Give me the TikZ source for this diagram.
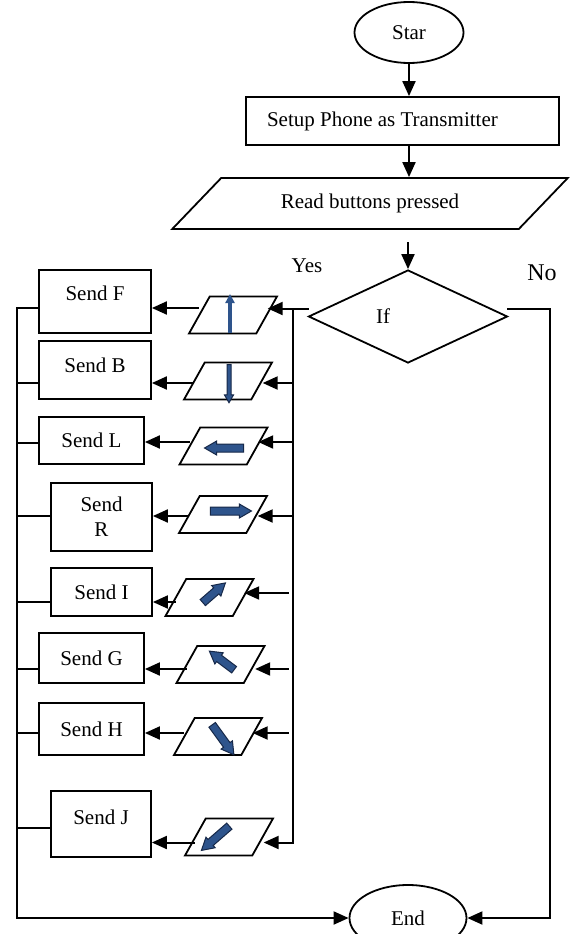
\documentclass[tikz,border=0pt]{standalone}
\usepackage{fontspec}
\setmainfont{Liberation Serif}
\usepackage{xcolor}
\usetikzlibrary{positioning}
\usetikzlibrary{shapes.geometric,shapes.arrows,arrows.meta}

\definecolor{keyblue}{RGB}{46,84,140}
\definecolor{keyedge}{RGB}{22,40,72}

\begin{document}
\begin{tikzpicture}[x=1pt, y=-1pt,
      font=\fontsize{21}{25}\selectfont,
      type-terminal/.style={ellipse, draw, line width=1.8pt, minimum width=109pt, minimum height=61pt, inner sep=0pt},
      type-process/.style={rectangle, draw, line width=1.8pt, inner sep=0pt},
      type-io/.style={trapezium, draw, line width=1.8pt, trapezium stretches=true, inner sep=0pt},
      type-key/.style={type-io, inner sep=2pt, trapezium left angle=66, trapezium right angle=114, minimum width=88pt, minimum height=37pt},
      type-decision/.style={diamond, draw, line width=1.8pt, minimum width=199pt, minimum height=93pt, inner sep=0pt},
      type-arrow/.style={single arrow, draw=keyedge, fill=keyblue, line width=1pt, inner sep=3.5pt,
        single arrow head extend=3pt, single arrow head indent=0pt, single arrow tip angle=60},
      wire/.style={line width=2pt, line cap=rect},
      flow/.style={wire, -{Triangle[length=15pt,width=13pt]}}
    ]
      \useasboundingbox (0,0) rectangle (575,934);

      % main column
      \node[type-terminal] (start) at (409,32.5) {Star};
      \node[type-process, minimum width=313pt, minimum height=48pt, text width=271pt, align=flush left] (setup) at (402.5,121) {Setup Phone as Transmitter};
      \node[type-io, trapezium left angle=33, trapezium right angle=147, minimum width=396pt, minimum height=51pt] (read) at (370,203.5) {Read buttons pressed};
      \node[type-decision, label={[xshift=-25pt]center:If}] (if) at (408,316.5) {};
      \node[type-terminal, minimum width=117pt, minimum height=66pt] (end) at (408,918) {End};
      \node (yes) at (307,266) {Yes};
      \node[font=\fontsize{24}{28}\selectfont] (no) at (542,273) {No};

      % send boxes
      \node[type-process, minimum width=112pt, minimum height=63pt, text depth=17pt] (sendF) at (95,301.5) {Send F};
      \node[type-process, minimum width=112pt, minimum height=58pt, text depth=10pt] (sendB) at (95,370) {Send B};
      \node[type-process, minimum width=105pt, minimum height=47pt] (sendL) at (91.5,440.5) {Send L};
      \node[type-process, minimum width=101pt, minimum height=68pt, align=center] (sendR) at (101.5,517) {Send\\R};
      \node[type-process, minimum width=101pt, minimum height=48pt] (sendI) at (101.5,592) {Send I};
      \node[type-process, minimum width=105pt, minimum height=50pt] (sendG) at (91.5,658) {Send G};
      \node[type-process, minimum width=105pt, minimum height=52pt] (sendH) at (91.5,729) {Send H};
      \node[type-process, minimum width=100pt, minimum height=66pt, text depth=14pt] (sendJ) at (101,824) {Send J};

      % key inputs
      \node[type-key] (keyF) at (233,315) {};
      \node[type-key] (keyB) at (228,381) {};
      \node[type-key] (keyL) at (223.5,446) {};
      \node[type-key] (keyR) at (223,514.5) {};
      \node[type-key] (keyI) at (209.5,597.5) {};
      \node[type-key] (keyG) at (220.5,664.5) {};
      \node[type-key] (keyH) at (218,736.5) {};
      \node[type-key] (keyJ) at (229,837) {};

      % direction marks on the keys
      \draw[keyblue, line width=4pt, -{Triangle[length=9pt,width=9pt]}] (230,333) -- (230,294);
      \node[type-arrow, rotate=-90, minimum height=38pt, inner sep=1.5pt, single arrow head extend=2.5pt] at (229,382) {};
      \node[type-arrow, rotate=180, minimum height=39pt] at (227.5,448) {};
      \node[type-arrow, minimum height=41pt] at (227.5,511) {};
      \node[type-arrow, rotate=41, minimum height=30pt] at (211.5,595) {};
      \node[type-arrow, rotate=143, minimum height=31pt] at (224.5,662.5) {};
      \node[type-arrow, rotate=-54, minimum height=37pt] at (221,737) {};
      \node[type-arrow, rotate=221, minimum height=37pt] at (218,836) {};

      \coordinate (rbus) at (293,308.5);
      \coordinate (lbus) at (16.5,308);
      \coordinate (nbus) at (550,308.5);

      \draw[flow] (start.south) -- (start.south |- setup.north);
      \draw[flow] (start.south |- setup.south) -- (start.south |- read.north);
      \draw[flow, shorten <=13pt] (if.north |- read.south) -- (if.north);

      % yes branch
      \draw[wire] ([yshift=8pt]if.west) -- (rbus) -- (rbus |- 0,842.5);
      \foreach \k/\yr/\yl/\yb/\gap in {F/308.5/308/308/0, B/383/383/383/0, L/442/442/443/0,
          R/516/516/516/0, I/593/602/602/5, G/669/669/669/5, H/733/733/733/5, J/842.5/842.5/828/0} {
        \draw[flow, shorten <=\gap pt] (rbus |- 0,\yr) -- (key\k.east |- 0,\yr);
        \draw[flow] (key\k.west |- 0,\yl) -- (send\k.east |- 0,\yl);
        \draw[wire] (lbus |- 0,\yb) -- (send\k.west |- 0,\yb);
      }
      \draw[flow] (lbus) -- (lbus |- end.west) -- (end.west);

      % no branch
      \draw[flow] ([yshift=8pt]if.east) -- (nbus) -- (nbus |- end.east) -- (end.east);
    \end{tikzpicture}
\end{document}
